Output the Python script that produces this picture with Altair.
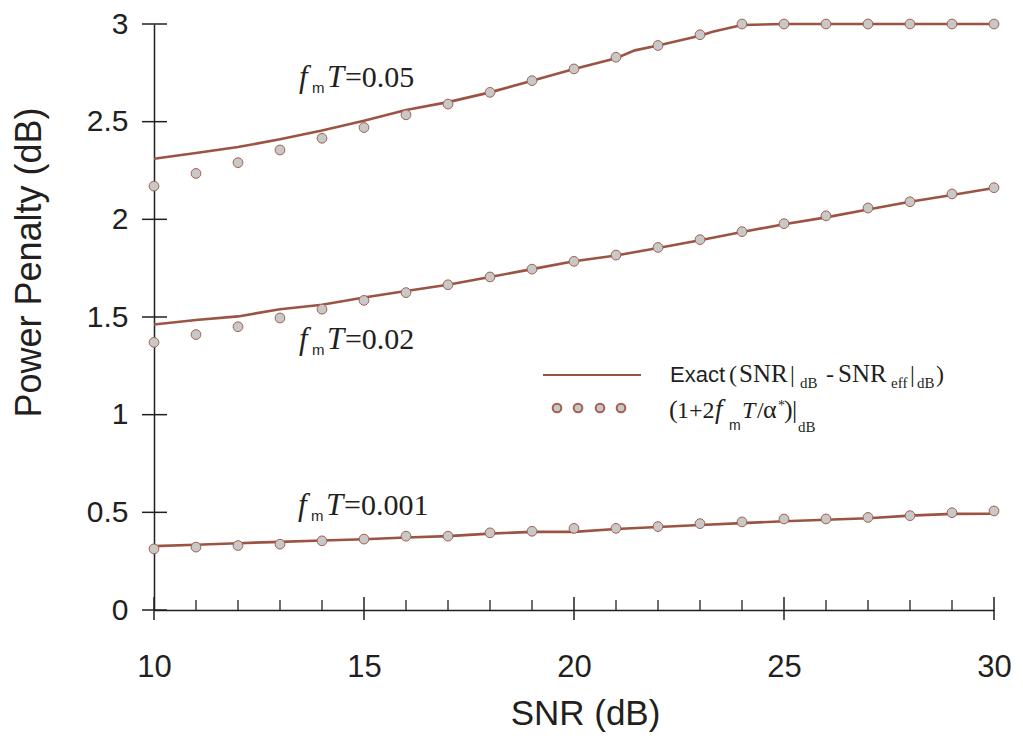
import altair as alt
import pandas as pd

# ---------------- data ----------------
snr = list(range(10, 31))

# approximation (1 + 2 fmT / alpha*) |dB  -- markers
approx_005 = [2.17, 2.235, 2.29, 2.355, 2.415, 2.47, 2.535, 2.59, 2.65, 2.71, 2.77,
              2.83, 2.89, 2.945, 3.0, 3.0, 3.0, 3.0, 3.0, 3.0, 3.0]
approx_002 = [1.37, 1.41, 1.45, 1.495, 1.54, 1.585, 1.625, 1.665, 1.705, 1.745, 1.785,
              1.817, 1.856, 1.896, 1.937, 1.978, 2.018, 2.058, 2.09, 2.13, 2.162]
approx_0001 = [0.313, 0.322, 0.33, 0.337, 0.354, 0.363, 0.378, 0.378, 0.395, 0.403, 0.418,
               0.418, 0.427, 0.442, 0.451, 0.466, 0.466, 0.474, 0.483, 0.498, 0.507]

# exact (SNR|dB - SNR_eff|dB)  -- lines
exact_snr_005 = [10, 11, 12, 13, 14, 15, 16, 17, 18, 19, 20, 21, 21.45, 22, 23, 23.3,
                 24, 25, 26, 27, 28, 29, 30]
exact_005 = [2.31, 2.34, 2.37, 2.41, 2.455, 2.505, 2.56, 2.60, 2.65, 2.71, 2.77, 2.825,
             2.865, 2.89, 2.94, 2.96, 2.995, 3.0, 3.0, 3.0, 3.0, 3.0, 3.0]
exact_snr = list(range(10, 31))
exact_002 = [1.462, 1.485, 1.503, 1.54, 1.563, 1.60, 1.633, 1.665, 1.705, 1.745, 1.785,
             1.815, 1.853, 1.893, 1.935, 1.975, 2.01, 2.05, 2.09, 2.125, 2.16]
exact_0001 = [0.327, 0.334, 0.342, 0.349, 0.356, 0.362, 0.371, 0.378, 0.391, 0.40, 0.40,
              0.415, 0.425, 0.435, 0.445, 0.454, 0.462, 0.47, 0.483, 0.492, 0.493]

curve_names = ["0.05", "0.02", "0.001"]
label_snr = [13.45, 13.45, 13.43]
label_db = [2.676, 1.335, 0.486]
label_text = ["=0.05", "=0.02", "=0.001"]

y_ticks = [0, 0.5, 1, 1.5, 2, 2.5, 3]
x_major = [10, 15, 20, 25, 30]
x_minor = [v for v in range(10, 31) if v % 5 != 0]

# ---------------- styles ----------------
LINE = "#9b5443"
MK_FILL = "#c8c8c8"
MK_STROKE = "#a3604f"
TXT = "#231f20"
SERIF = "Liberation Serif"
SANS = "Liberation Sans"

W, H = 840, 586

exact_df = pd.concat([
    pd.DataFrame({"curve": "0.05", "snr": exact_snr_005, "pp": exact_005}),
    pd.DataFrame({"curve": "0.02", "snr": exact_snr, "pp": exact_002}),
    pd.DataFrame({"curve": "0.001", "snr": exact_snr, "pp": exact_0001}),
])
approx_df = pd.concat([
    pd.DataFrame({"curve": "0.05", "snr": snr, "pp": approx_005}),
    pd.DataFrame({"curve": "0.02", "snr": snr, "pp": approx_002}),
    pd.DataFrame({"curve": "0.001", "snr": snr, "pp": approx_0001}),
])
labels_df = pd.DataFrame({"curve": curve_names, "snr": label_snr, "pp": label_db, "txt": label_text})

xs = alt.Scale(domain=[10, 30], nice=False, zero=False)
ys = alt.Scale(domain=[0, 3], nice=False, zero=False)

x_axis = alt.Axis(values=x_major, format="d", ticks=False, tickSize=0, grid=False,
                  domainColor=TXT, domainWidth=1.5, labelFont=SANS, labelFontSize=31,
                  labelColor=TXT, labelPadding=66, labelBaseline="alphabetic",
                  labelFlush=False, labelOverlap=False,
                  title="SNR (dB)", titleFont=SANS, titleFontSize=35, titleFontWeight="normal",
                  titleColor=TXT, titleX=431, titleY=114, titleBaseline="alphabetic",
                  titleAlign="center")
y_axis = alt.Axis(values=y_ticks, format="~g", ticks=False, tickSize=0, grid=False,
                  domainColor=TXT, domainWidth=1.5, labelFont=SANS, labelFontSize=30,
                  labelColor=TXT, labelPadding=26, labelFlush=False, labelOverlap=False,
                  title="Power Penalty (dB)", titleFont=SANS, titleFontSize=36,
                  titleFontWeight="normal", titleColor=TXT, titleX=-114, titleY=238,
                  titleBaseline="alphabetic", titleAlign="center", titleAngle=270)

X = alt.X("snr:Q", scale=xs, axis=x_axis)
Y = alt.Y("pp:Q", scale=ys, axis=y_axis)

lines = alt.Chart(exact_df).mark_line(color=LINE, strokeWidth=2.6).encode(
    x=X, y=Y, detail="curve:N")
points = alt.Chart(approx_df).mark_circle(size=95, fill=MK_FILL, stroke=MK_STROKE,
                                          strokeWidth=1, opacity=1).encode(
    x=X, y=Y, detail="curve:N")

# crossing ticks
ytick = alt.Chart(pd.DataFrame({"pp": y_ticks})).mark_rule(color=TXT, strokeWidth=1.5).encode(
    y=Y, x=alt.value(-12), x2=alt.value(13))
xmajor = alt.Chart(pd.DataFrame({"snr": x_major})).mark_rule(color=TXT, strokeWidth=1.5).encode(
    x=X, y=alt.value(H - 13), y2=alt.value(H + 10))
xminor = alt.Chart(pd.DataFrame({"snr": x_minor})).mark_rule(color=TXT, strokeWidth=1.3).encode(
    x=X, y=alt.value(H - 10), y2=alt.value(H))

# curve labels  f_m T = value
def lab(text=None, dx=0, dy=0, size=30, font=SERIF, style="normal"):
    kw = dict(align="left", baseline="alphabetic", font=font, fontSize=size,
              fontStyle=style, color=TXT, dx=dx, dy=dy)
    if text is not None:
        kw["text"] = text
    enc = dict(x=X, y=Y)
    if text is None:
        enc["text"] = alt.Text("txt:N")
    return alt.Chart(labels_df).mark_text(**kw).encode(**enc)

lab_f = lab("f", 0, 0, 31, SERIF, "italic")
lab_m = lab("m", 13, 6, 15, SANS)
lab_T = lab("T", 28, 0, 31, SERIF, "italic")
lab_v = lab(None, 46, 0, 30, SERIF)

# legend (pixel offsets inside the plot area)
one = pd.DataFrame({"k": [0]})
LY = -4  # vertical shift of legend relative to plot top

def piece(text, x, y, size, font=SERIF, style="normal"):
    return alt.Chart(one).mark_text(text=text, align="left", baseline="alphabetic", font=font,
                                    fontSize=size, fontStyle=style, color=TXT).encode(
        x=alt.value(x), y=alt.value(y + LY))

leg_line = alt.Chart(one).mark_rule(color=LINE, strokeWidth=1.8).encode(
    x=alt.value(389), x2=alt.value(487), y=alt.value(355 + LY))
leg_pts = [alt.Chart(one).mark_circle(size=75, fill=MK_FILL, stroke=MK_STROKE, strokeWidth=2,
                                      opacity=1).encode(x=alt.value(px), y=alt.value(388 + LY))
           for px in (403, 424, 446, 467)]

legend_text = [
    piece("Exact", 516, 362, 22, SANS),
    piece("(", 575, 362, 24),
    piece("SNR", 585, 362, 25),
    piece("|", 636, 362, 24),
    piece("dB", 646, 368, 15),
    piece("-", 672, 362, 24),
    piece("SNR", 684, 362, 25),
    piece("eff", 737, 368, 15),
    piece("|", 756, 362, 24),
    piece("dB", 763, 368, 15),
    piece(")", 782, 362, 24),
    piece("(", 515, 398, 26),
    piece("1+2", 523, 398, 24),
    piece("f", 561, 398, 27, SERIF, "italic"),
    piece("m", 575, 410, 14, SANS),
    piece("T", 588, 398, 24, SERIF, "italic"),
    piece("/", 603, 398, 24),
    piece("α", 609, 398, 26),
    piece("*", 624, 390, 14),
    piece(")", 630, 398, 26),
    piece("|", 638, 398, 26),
    piece("dB", 644, 412, 15),
]

chart = alt.layer(
    lines, points, ytick, xmajor, xminor, lab_f, lab_m, lab_T, lab_v,
    leg_line, *leg_pts, *legend_text,
).properties(
    width=W, height=H,
    autosize=alt.AutoSizeParams(type="none"),
    padding={"left": 146, "top": 16, "right": 21, "bottom": 122},
    background="white",
).configure_view(stroke=None)

chart.save("out.html", embed_options={"renderer": "svg", "actions": False})
